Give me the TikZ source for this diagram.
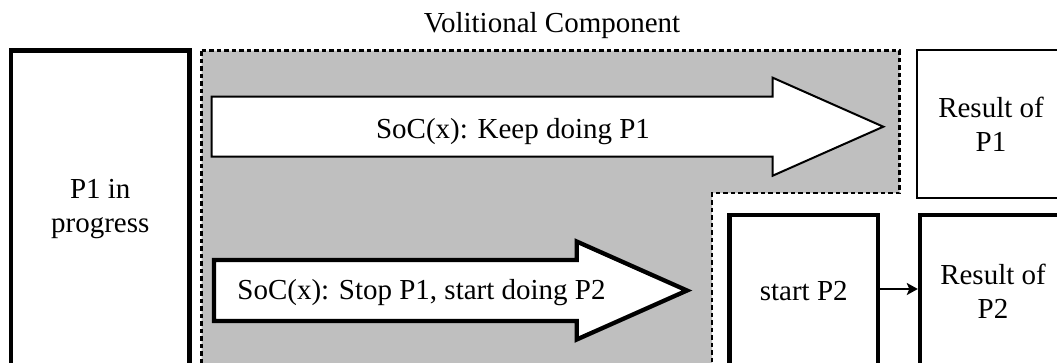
\documentclass[tikz,border=0pt]{standalone}
\usepackage{fontspec}
\setmainfont{Liberation Serif}
\usetikzlibrary{arrows.meta}
\definecolor{regiongray}{RGB}{191,191,191}
\tikzset{
  lbl/.style={font=\fontsize{29}{34}\selectfont, align=center, inner sep=0pt},
  thickbox/.style={lbl, draw, line width=4.3pt, fill=white, outer sep=0pt},
  thinbox/.style={lbl, draw, line width=2pt, fill=white, outer sep=0pt},
  region/.style={draw, fill=regiongray, line width=2.3pt, dash pattern=on 4.5pt off 3pt},
  thinarrowshape/.style={draw, fill=white, line width=2pt, line join=miter},
  thickarrowshape/.style={draw, fill=white, line width=4.3pt, line join=miter},
  conn/.style={line width=2pt, -{Stealth[length=11pt,width=12pt,inset=2.5pt]}, shorten >=2.2pt}
}
\begin{document}
\begin{tikzpicture}[x=1pt,y=-1pt]
\useasboundingbox (0,0) rectangle (1057,362);
\clip (0,0) rectangle (1057,362);
% volitional region
\draw[region] (201.5,50.5) -- (899.5,50.5) -- (899.5,193) -- (712,193) -- (712,375) -- (201.5,375) -- cycle;
\node[lbl, anchor=base] (title) at (552,32) {Volitional Component};
% boxes
\node[thickbox, minimum width=178.5pt, minimum height=316.5pt] (p1) at (100.25,208.75) {P1 in\\progress};
\node[thinbox, minimum width=148.3pt, minimum height=147.7pt] (r1) at (991,123.85) {Result of\\P1};
\node[thickbox, minimum width=148.5pt, minimum height=152pt] (sp2) at (803.75,291) {start P2};
\node[thickbox, minimum width=146pt, minimum height=152pt] (r2) at (993,291) {Result of\\P2};
% big arrows
\draw[thinarrowshape] (211.5,96.5) -- (772.7,96.5) -- (772.7,77.7) -- (883.3,126.7) -- (772.7,175.7) -- (772.7,156.5) -- (211.5,156.5) -- cycle;
\node[lbl, anchor=base] (keep) at (513,138) {SoC(x): Keep doing P1};
\draw[thickarrowshape] (214,260) -- (576.7,260) -- (576.7,241.5) -- (687,290.5) -- (576.7,339.5) -- (576.7,321) -- (214,321) -- cycle;
\node[lbl, anchor=base] (stop) at (421.5,299.5) {SoC(x): Stop P1, start doing P2};
% connector
\draw[conn] ([yshift=2pt]sp2.east) -- ([yshift=2pt]r2.west);
\end{tikzpicture}
\end{document}
